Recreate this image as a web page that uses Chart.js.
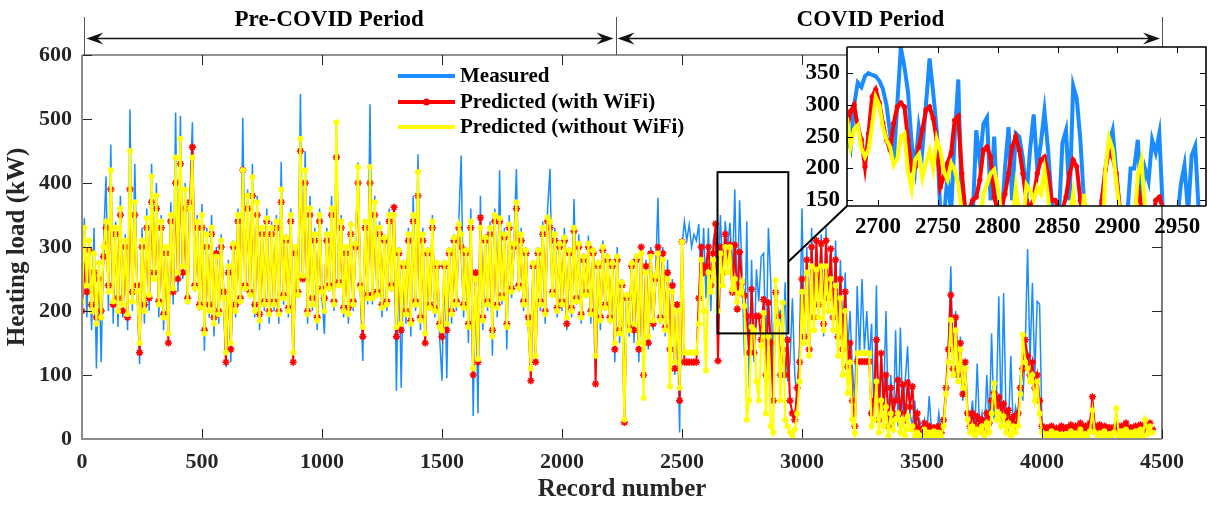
<!DOCTYPE html>
<html>
<head>
<meta charset="utf-8">
<script src="https://cdn.jsdelivr.net/npm/chart.js@4.4.1/dist/chart.umd.min.js"></script>
<style>
  html, body { margin: 0; padding: 0; background: #fff; }
  #wrap { position: relative; width: 1210px; height: 505px; overflow: hidden; }
  #main { position: absolute; left: 0; top: 0; }
  #inset { position: absolute; left: 790px; top: 40px; }
</style>
</head>
<body>
<div id="wrap">
  <canvas id="main" width="1210" height="505"></canvas>
  <canvas id="inset" width="420" height="210"></canvas>
</div>
<script>
// Valores: un valor cada 10 registros (registro 0 a 4460)
const recordStart = 0;
const recordStep = 10;

const measured = [
  250, 345, 190, 300, 170, 330, 110, 280, 120, 310,
  410, 200, 460, 180, 340, 175, 380, 190, 320, 170,
  515, 200, 430, 230, 117, 330, 180, 360, 200, 430,
  250, 400, 190, 350, 170, 300, 160, 370, 210, 510,
  230, 505, 250, 400, 210, 380, 495, 230, 350, 200,
  367, 138, 330, 190, 350, 160, 300, 180, 320, 210,
  112, 280, 120, 310, 190, 360, 210, 502, 230, 390,
  220, 430, 190, 380, 170, 330, 200, 360, 180, 340,
  200, 350, 180, 433, 210, 320, 190, 360, 130, 300,
  220, 539, 260, 450, 180, 380, 200, 330, 170, 360,
  220, 164, 330, 230, 380, 200, 490, 240, 350, 190,
  300, 180, 340, 200, 310, 432, 230, 122, 340, 210,
  523, 210, 380, 220, 340, 190, 320, 200, 360, 230,
  362, 75, 300, 80, 280, 180, 330, 160, 380, 200,
  445, 170, 330, 150, 300, 200, 350, 190, 280, 160,
  91, 280, 95, 300, 180, 320, 200, 340, 443, 190,
  300, 150, 360, 36, 250, 40, 380, 170, 320, 200,
  340, 130, 360, 190, 420, 210, 330, 140, 350, 220,
  310, 422, 230, 330, 200, 300, 170, 120, 280, 150,
  300, 200, 340, 180, 360, 422, 220, 330, 190, 310,
  200, 330, 170, 300, 190, 375, 210, 320, 180, 290,
  220, 318, 180, 300, 140, 280, 170, 310, 200, 290,
  180, 280, 120, 300, 150, 250, 90, 230, 160, 280,
  150, 290, 120, 260, 90, 280, 140, 300, 170, 260,
  377, 180, 300, 160, 280, 120, 250, 100, 200, 10,
  300, 340, 310, 335, 300, 320, 310, 336, 240, 330,
  220, 330, 200, 310, 330, 240, 350, 250, 340, 300,
  338, 255, 390, 200, 373, 260, 130, 340, 80, 280,
  120, 265, 215, 285, 290, 120, 330, 245, 100, 240,
  195, 200, 150, 245, 90, 120, 220, 100, 60, 150,
  360, 150, 300, 130, 330, 180, 290, 200, 320, 160,
  330, 200, 300, 180, 310, 140, 280, 150, 260, 130,
  200, 110, 60, 239, 130, 250, 140, 200, 120, 180,
  40, 240, 20, 130, 60, 200, 30, 100, 10, 170,
  20, 174, 30, 90, 145, 40, 20, 60, 10, 30,
  10, 30, 5, 67, 10, 20, 3, 40, 9, 25,
  60, 150, 270, 120, 200, 90, 160, 60, 100, 30,
  20, 60, 10, 118, 15, 40, 5, 100, 20, 165,
  30, 60, 223, 20, 228, 40, 10, 130, 20, 50,
  30, 100, 60, 140, 297, 120, 244, 100, 215, 211,
  20, 5, 15, 8, 12, 3, 18, 6, 10, 4,
  15, 5, 20, 8, 10, 3, 25, 6, 12, 4,
  30, 10, 20, 5, 15, 8, 18, 4, 12, 6,
  10, 25, 5, 15, 8, 20, 6, 12, 4, 18,
  8, 20, 5, 15, 10, 25, 6
];

const predictedWithWifi = [
  200, 270, 230, 295, 210, 260, 190, 250, 200, 285,
  330, 240, 390, 210, 320, 220, 350, 200, 300, 190,
  390, 230, 350, 240, 135, 300, 210, 330, 220, 370,
  260, 360, 215, 330, 195, 290, 150, 340, 230, 400,
  250, 430, 260, 360, 220, 370, 456, 240, 330, 210,
  330, 170, 300, 210, 320, 190, 290, 200, 300, 230,
  120, 260, 140, 300, 210, 340, 220, 420, 240, 360,
  230, 380, 210, 350, 195, 320, 215, 340, 200, 320,
  215, 330, 200, 370, 225, 310, 205, 340, 120, 290,
  230, 450, 250, 400, 200, 350, 220, 310, 190, 340,
  235, 220, 310, 240, 350, 215, 440, 245, 330, 205,
  290, 205, 320, 215, 300, 400, 240, 160, 330, 225,
  400, 225, 350, 230, 320, 210, 310, 215, 340, 240,
  362, 160, 290, 170, 270, 200, 310, 185, 340, 215,
  380, 190, 310, 150, 290, 210, 330, 205, 270, 180,
  160, 270, 170, 290, 200, 310, 215, 330, 300, 210,
  290, 180, 330, 100, 260, 120, 346, 190, 310, 215,
  320, 170, 340, 210, 340, 225, 315, 180, 330, 235,
  300, 360, 240, 310, 215, 290, 190, 91, 270, 120,
  290, 215, 320, 200, 340, 330, 230, 310, 205, 300,
  215, 310, 180, 290, 205, 325, 220, 300, 195, 280,
  230, 300, 200, 290, 86, 270, 190, 295, 210, 280,
  190, 270, 140, 280, 170, 240, 26, 220, 175, 270,
  170, 280, 140, 300, 100, 270, 150, 290, 180, 250,
  300, 190, 290, 175, 260, 140, 240, 110, 210, 60,
  308, 120, 120, 120, 120, 120, 120, 220, 300, 260,
  270, 300, 240, 290, 336, 122, 300, 260, 320, 280,
  303, 229, 303, 203, 292, 245, 224, 192, 135, 234,
  135, 192, 192, 155, 218, 100, 213, 150, 60, 229,
  192, 100, 140, 100, 155, 60, 40, 30, 80, 120,
  250, 160, 280, 140, 300, 190, 310, 210, 305, 180,
  310, 220, 297, 190, 280, 160, 250, 140, 230, 113,
  150, 60, 20, 121, 121, 121, 121, 121, 121, 40,
  60, 155, 30, 134, 50, 100, 20, 80, 40, 60,
  92, 40, 85, 30, 88, 50, 82, 20, 40, 15,
  15, 25, 10, 20, 12, 18, 8, 20, 10, 30,
  80, 140, 225, 110, 190, 100, 150, 70, 120, 40,
  20, 40, 15, 35, 20, 30, 10, 40, 25, 60,
  72, 51, 65, 40, 55, 30, 45, 25, 35, 20,
  40, 80, 110, 155, 130, 100, 120, 80, 100, 60,
  20, 15, 18, 12, 20, 15, 17, 14, 20, 16,
  18, 14, 22, 15, 20, 12, 25, 16, 20, 15,
  25, 66, 20, 15, 22, 18, 20, 14, 18, 16,
  18, 22, 15, 20, 12, 25, 16, 18, 14, 20,
  16, 22, 14, 20, 18, 25, 15
];

const predictedWithoutWifi = [
  215, 330, 240, 310, 200, 290, 180, 275, 190, 300,
  340, 230, 420, 215, 330, 200, 360, 210, 310, 195,
  450, 215, 370, 230, 150, 310, 200, 345, 225, 410,
  250, 380, 210, 340, 190, 300, 165, 350, 235, 440,
  260, 469, 270, 390, 215, 360, 440, 235, 340, 205,
  350, 165, 320, 200, 330, 180, 285, 195, 310, 220,
  135, 270, 150, 305, 200, 350, 215, 420, 235, 380,
  225, 409, 200, 370, 185, 330, 210, 345, 195, 330,
  210, 340, 195, 390, 220, 315, 200, 350, 135, 300,
  225, 469, 255, 420, 195, 360, 210, 320, 185, 350,
  230, 200, 320, 235, 360, 210, 495, 240, 340, 200,
  300, 195, 335, 210, 305, 425, 235, 175, 340, 220,
  425, 220, 370, 225, 330, 205, 315, 210, 350, 235,
  350, 175, 295, 180, 275, 195, 320, 180, 350, 210,
  417, 185, 320, 165, 295, 205, 340, 200, 275, 175,
  170, 275, 180, 295, 195, 315, 210, 335, 320, 205,
  295, 175, 340, 110, 250, 125, 330, 185, 315, 210,
  330, 160, 350, 205, 345, 220, 320, 175, 335, 230,
  305, 370, 235, 320, 210, 295, 180, 110, 275, 130,
  295, 210, 330, 195, 346, 340, 225, 320, 200, 305,
  210, 315, 190, 295, 200, 330, 215, 305, 190, 285,
  225, 305, 195, 295, 130, 275, 185, 300, 205, 285,
  185, 275, 150, 285, 165, 245, 30, 225, 170, 275,
  180, 285, 150, 290, 64, 260, 160, 285, 185, 255,
  290, 185, 280, 170, 250, 82, 230, 120, 200, 80,
  308, 135, 135, 135, 135, 135, 135, 180, 280, 200,
  107, 260, 230, 280, 250, 200, 290, 240, 300, 260,
  300, 234, 250, 214, 228, 246, 208, 30, 60, 175,
  170, 90, 60, 145, 197, 40, 160, 20, 10, 248,
  180, 60, 213, 30, 20, 10, 5, 15, 40, 90,
  230, 150, 260, 130, 270, 170, 265, 190, 270, 170,
  270, 200, 250, 170, 240, 130, 220, 100, 200, 72,
  120, 30, 9, 134, 134, 134, 134, 134, 134, 20,
  30, 90, 10, 60, 20, 50, 5, 40, 15, 30,
  40, 10, 30, 5, 35, 15, 20, 5, 10, 3,
  5, 15, 3, 10, 6, 12, 2, 10, 5, 20,
  70, 120, 186, 100, 170, 90, 140, 80, 110, 30,
  10, 20, 5, 15, 10, 20, 5, 25, 10, 40,
  87, 30, 40, 20, 35, 10, 25, 5, 20, 10,
  20, 70, 163, 120, 110, 90, 100, 60, 90, 40,
  10, 3, 8, 5, 12, 4, 9, 6, 7, 3,
  8, 4, 12, 6, 9, 5, 15, 6, 8, 4,
  12, 45, 10, 6, 9, 5, 12, 4, 8, 5,
  10, 48, 5, 12, 6, 15, 4, 10, 5, 12,
  6, 15, 4, 30, 8, 20, 10
];

// Recuadro ampliado: un valor cada 3 registros (2674 a 2974)
const insetStart = 2674;
const insetStep = 3;

const insetMeasured = [
  250, 232, 300, 335, 328, 345, 350, 347, 345, 338,
  325, 300, 255, 210, 300, 390, 360, 320, 240, 200,
  265, 230, 300, 373, 320, 260, 130, 120, 190, 130,
  250, 340, 130, 90, 80, 120, 260, 210, 270, 280,
  150, 250, 120, 110, 200, 265, 150, 255, 250, 215,
  155, 230, 285, 200, 240, 290, 230, 150, 100, 120,
  240, 260, 150, 330, 310, 245, 150, 100, 90, 100,
  110, 150, 200, 240, 260, 195, 130, 90, 120, 200,
  200, 245, 150, 200, 180, 245, 225, 255, 130, 90,
  80, 100, 120, 175, 205, 130, 220, 235, 130, 100,
  100
];

const insetWithWifi = [
  261, 290, 300, 266, 245, 203, 255, 313, 324, 303,
  271, 245, 229, 271, 297, 303, 297, 245, 198, 203,
  234, 261, 292, 297, 279, 245, 171, 187, 208, 224,
  276, 282, 192, 130, 135, 150, 155, 182, 229, 234,
  218, 155, 135, 137, 160, 192, 234, 250, 229, 192,
  150, 135, 155, 192, 213, 218, 192, 150, 150, 135,
  135, 155, 192, 213, 203, 150, 110, 90, 80, 70,
  100, 150, 198, 229, 218, 192, 137, 100, 80, 70,
  110, 171, 140, 137, 110, 100, 150, 155, 137, 100,
  80, 60, 50, 40, 35, 40, 35, 30, 30, 25,
  25
];

const insetWithoutWifi = [
  280, 235, 262, 268, 232, 218, 230, 268, 312, 300,
  264, 245, 234, 205, 215, 250, 255, 195, 168, 214,
  222, 185, 208, 228, 200, 246, 228, 195, 182, 208,
  198, 175, 130, 40, 30, 60, 80, 110, 160, 175,
  192, 198, 170, 130, 90, 60, 110, 170, 130, 110,
  174, 165, 150, 171, 160, 197, 155, 100, 60, 40,
  50, 80, 120, 160, 120, 80, 160, 90, 40, 20,
  20, 60, 200, 248, 230, 180, 130, 80, 40, 60,
  100, 190, 213, 140, 60, 30, 20, 10, 15, 5,
  10, 20, 10, 5, 15, 10, 5, 8, 12, 6,
  10
];

const xTicks = [0, 500, 1000, 1500, 2000, 2500, 3000, 3500, 4000, 4500];
const yTicks = [0, 100, 200, 300, 400, 500, 600];
const insetXTicks = [2700, 2750, 2800, 2850, 2900, 2950];
const insetYTicks = [150, 200, 250, 300, 350];

const seriesNames = ['Measured', 'Predicted (with WiFi)', 'Predicted (without WiFi)'];
const seriesColors = ['#1a8cff', '#ff0000', '#ffff00'];

// Periodos anotados arriba del gráfico (en número de registro)
const periods = [
  { label: 'Pre-COVID Period', from: 10, to: 2223, labelAt: 1030 },
  { label: 'COVID Period', from: 2223, to: 4500, labelAt: 3285 }
];
// Rectángulo de la zona ampliada (registros y kW)
const zoomBox = { from: 2648, to: 2943, low: 165, high: 417, joinAt: 277 };

// Posición del recuadro dentro de la página
const INSET_LEFT = 790;
const INSET_TOP = 40;
const INSET_H = 210;
const INSET_AREA = { left: 57, top: 7, right: 3, bottom: 44 };

const SERIF = '"Liberation Serif", "Times New Roman", serif';
const INK = '#262626';

function toPoints(values, start, step) {
  return values.map(function (v, i) {
    return { x: start + i * step, y: v };
  });
}

function plainLabel(v) {
  return String(v);
}

// quita el margen extra que Chart.js reserva para las etiquetas extremas
function noEdgePadding(s) {
  s.paddingTop = 0;
  s.paddingBottom = 0;
  s.paddingLeft = 0;
  s.paddingRight = 0;
}

// Marco y marcas de eje hacia dentro (estilo MATLAB)
function drawBox(chart, xs, ys, tickLen, heavyLeftBottom, color, width) {
  const ctx = chart.ctx;
  const a = chart.chartArea;
  const x = chart.scales.x;
  const y = chart.scales.y;
  ctx.save();
  ctx.strokeStyle = color;
  ctx.lineWidth = 1;
  ctx.beginPath();
  xs.forEach(function (v) {
    const px = Math.round(x.getPixelForValue(v)) + 0.5;
    ctx.moveTo(px, a.bottom); ctx.lineTo(px, a.bottom - tickLen);
    ctx.moveTo(px, a.top); ctx.lineTo(px, a.top + tickLen);
  });
  ys.forEach(function (v) {
    const py = Math.round(y.getPixelForValue(v)) + 0.5;
    ctx.moveTo(a.left, py); ctx.lineTo(a.left + tickLen, py);
    ctx.moveTo(a.right, py); ctx.lineTo(a.right - tickLen, py);
  });
  ctx.stroke();

  ctx.lineWidth = width;
  ctx.beginPath();
  ctx.moveTo(a.left, a.top); ctx.lineTo(a.right, a.top); ctx.lineTo(a.right, a.bottom);
  ctx.stroke();
  if (heavyLeftBottom) {
    ctx.strokeStyle = '#8c8c8c';
    ctx.lineWidth = 2;
  }
  ctx.beginPath();
  ctx.moveTo(a.left, a.top); ctx.lineTo(a.left, a.bottom); ctx.lineTo(a.right, a.bottom);
  ctx.stroke();
  ctx.restore();
}

function arrowHead(ctx, tipX, y, dir) {
  // dir = 1 apunta a la derecha, -1 a la izquierda
  ctx.beginPath();
  ctx.moveTo(tipX, y);
  ctx.lineTo(tipX - dir * 17, y - 6);
  ctx.lineTo(tipX - dir * 11, y);
  ctx.lineTo(tipX - dir * 17, y + 6);
  ctx.closePath();
  ctx.fill();
}

const mainDecor = {
  id: 'mainDecor',
  afterDatasetsDraw(chart) {
    const ctx = chart.ctx;
    const x = chart.scales.x;
    const y = chart.scales.y;

    drawBox(chart, xTicks, yTicks, 10, true, INK, 1.2);

    ctx.save();
    // rectángulo de zoom y línea hacia el recuadro
    const rx0 = x.getPixelForValue(zoomBox.from);
    const rx1 = x.getPixelForValue(zoomBox.to);
    const ry0 = y.getPixelForValue(zoomBox.high);
    const ry1 = y.getPixelForValue(zoomBox.low);
    ctx.strokeStyle = '#000';
    ctx.lineWidth = 2;
    ctx.strokeRect(rx0, ry0, rx1 - rx0, ry1 - ry0);
    ctx.beginPath();
    ctx.moveTo(rx1, y.getPixelForValue(zoomBox.joinAt));
    ctx.lineTo(INSET_LEFT + INSET_AREA.left, INSET_TOP + INSET_H - INSET_AREA.bottom);
    ctx.stroke();

    // leyenda
    const legX0 = 398, legX1 = 455, legRows = [76, 102, 127];
    seriesNames.forEach(function (name, i) {
      ctx.strokeStyle = seriesColors[i];
      ctx.lineWidth = 4;
      ctx.beginPath();
      ctx.moveTo(legX0, legRows[i]);
      ctx.lineTo(legX1, legRows[i]);
      ctx.stroke();
      if (i === 1) {
        ctx.fillStyle = seriesColors[i];
        ctx.beginPath();
        ctx.arc((legX0 + legX1) / 2, legRows[i], 3.5, 0, Math.PI * 2);
        ctx.fill();
      }
      ctx.fillStyle = '#000';
      ctx.font = 'bold 21px ' + SERIF;
      ctx.textAlign = 'left';
      ctx.textBaseline = 'middle';
      ctx.fillText(name, 460, legRows[i] + 1);
    });

    // periodos con flechas dobles
    const arrowY = 38.5;
    ctx.strokeStyle = '#555';
    ctx.lineWidth = 1;
    ctx.beginPath();
    const edges = [periods[0].from, periods[0].to, periods[1].to];
    edges.forEach(function (r, i) {
      const px = Math.round(x.getPixelForValue(r)) + 0.5;
      ctx.moveTo(px, 17);
      ctx.lineTo(px, i === 2 ? INSET_TOP + INSET_AREA.top : chart.chartArea.top);
    });
    ctx.stroke();
    periods.forEach(function (p) {
      const p0 = x.getPixelForValue(p.from) + 2;
      const p1 = x.getPixelForValue(p.to) - 2;
      ctx.strokeStyle = '#111';
      ctx.lineWidth = 1.3;
      ctx.beginPath();
      ctx.moveTo(p0 + 8, arrowY);
      ctx.lineTo(p1 - 8, arrowY);
      ctx.stroke();
      ctx.fillStyle = '#111';
      arrowHead(ctx, p0, arrowY, -1);
      arrowHead(ctx, p1, arrowY, 1);
      ctx.fillStyle = '#000';
      ctx.font = 'bold 23px ' + SERIF;
      ctx.textAlign = 'center';
      ctx.textBaseline = 'middle';
      ctx.fillText(p.label, x.getPixelForValue(p.labelAt), 20);
    });
    ctx.restore();
  }
};

function tickFont(size) {
  return { family: SERIF, size: size, weight: 'bold' };
}

const mainChart = new Chart(document.getElementById('main').getContext('2d'), {
  type: 'line',
  data: {
    datasets: [
      {
        label: seriesNames[0],
        data: toPoints(measured, recordStart, recordStep),
        borderColor: seriesColors[0],
        borderWidth: 1.5,
        pointRadius: 0,
        order: 3
      },
      {
        label: seriesNames[1],
        data: toPoints(predictedWithWifi, recordStart, recordStep),
        borderColor: seriesColors[1],
        backgroundColor: seriesColors[1],
        borderWidth: 2,
        pointStyle: 'star',
        pointRadius: 3.6,
        pointBorderWidth: 1.6,
        order: 2
      },
      {
        label: seriesNames[2],
        data: toPoints(predictedWithoutWifi, recordStart, recordStep),
        borderColor: seriesColors[2],
        backgroundColor: seriesColors[2],
        borderWidth: 2.2,
        pointStyle: 'circle',
        pointRadius: 3,
        pointBorderWidth: 0,
        order: 1
      }
    ]
  },
  options: {
    responsive: false,
    animation: false,
    events: [],
    layout: { padding: { top: 55, right: 48, left: 0, bottom: 0 } },
    plugins: { legend: { display: false }, tooltip: { enabled: false } },
    elements: { line: { tension: 0 } },
    scales: {
      x: {
        type: 'linear',
        min: 0,
        max: 4500,
        afterBuildTicks: function (s) { s.ticks = xTicks.map(function (v) { return { value: v }; }); },
        afterFit: function (s) { s.height = 66; noEdgePadding(s); },
        ticks: { font: tickFont(22), color: INK, padding: 10, maxRotation: 0, autoSkip: false, callback: plainLabel },
        grid: { display: false, drawTicks: false },
        border: { display: false },
        title: { display: true, text: 'Record number', font: tickFont(25), color: INK, padding: { top: 0, bottom: 0 } }
      },
      y: {
        min: 0,
        max: 600,
        afterBuildTicks: function (s) { s.ticks = yTicks.map(function (v) { return { value: v }; }); },
        afterFit: function (s) { s.width = 82; noEdgePadding(s); },
        ticks: { font: tickFont(22), color: INK, padding: 10, callback: plainLabel },
        grid: { display: false, drawTicks: false },
        border: { display: false },
        title: { display: true, text: 'Heating load (kW)', font: tickFont(25), color: INK, padding: { top: 3, bottom: 0 } }
      }
    }
  },
  plugins: [mainDecor]
});

const insetDecor = {
  id: 'insetDecor',
  beforeDatasetsDraw(chart) {
    const a = chart.chartArea;
    chart.ctx.save();
    chart.ctx.fillStyle = '#fff';
    chart.ctx.fillRect(a.left, a.top, a.right - a.left, a.bottom - a.top);
    chart.ctx.restore();
  },
  afterDatasetsDraw(chart) {
    drawBox(chart, insetXTicks, insetYTicks, 6, false, '#000', 1.6);
  }
};

const insetChart = new Chart(document.getElementById('inset').getContext('2d'), {
  type: 'line',
  data: {
    datasets: [
      {
        data: toPoints(insetMeasured, insetStart, insetStep),
        borderColor: seriesColors[0],
        borderWidth: 4,
        pointRadius: 0,
        clip: 0,
        order: 3
      },
      {
        data: toPoints(insetWithWifi, insetStart, insetStep),
        borderColor: seriesColors[1],
        backgroundColor: seriesColors[1],
        borderWidth: 4,
        pointRadius: 2.6,
        pointBorderWidth: 0,
        clip: 0,
        order: 2
      },
      {
        data: toPoints(insetWithoutWifi, insetStart, insetStep),
        borderColor: seriesColors[2],
        borderWidth: 4,
        pointRadius: 0,
        clip: 0,
        order: 1
      }
    ]
  },
  options: {
    responsive: false,
    animation: false,
    events: [],
    layout: { padding: { top: INSET_AREA.top, right: INSET_AREA.right, left: 0, bottom: 0 } },
    plugins: { legend: { display: false }, tooltip: { enabled: false } },
    elements: { line: { tension: 0 } },
    scales: {
      x: {
        type: 'linear',
        min: 2674,
        max: 2974,
        afterBuildTicks: function (s) { s.ticks = insetXTicks.map(function (v) { return { value: v }; }); },
        afterFit: function (s) { s.height = INSET_AREA.bottom; noEdgePadding(s); },
        ticks: { font: tickFont(23), color: '#000', padding: 7, maxRotation: 0, autoSkip: false, callback: plainLabel },
        grid: { display: false, drawTicks: false },
        border: { display: false }
      },
      y: {
        min: 141,
        max: 391,
        afterBuildTicks: function (s) { s.ticks = insetYTicks.map(function (v) { return { value: v }; }); },
        afterFit: function (s) { s.width = INSET_AREA.left; noEdgePadding(s); },
        ticks: { font: tickFont(23), color: '#000', padding: 7, callback: plainLabel },
        grid: { display: false, drawTicks: false },
        border: { display: false }
      }
    }
  },
  plugins: [insetDecor]
});
</script>
</body>
</html>
